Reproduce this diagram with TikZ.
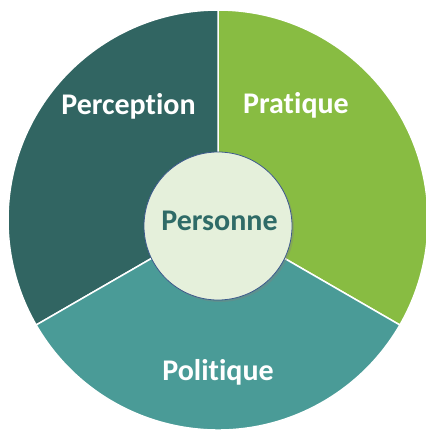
\documentclass[tikz,border=0pt]{standalone}
\usepackage{fontspec}
\setmainfont{Carlito}[Ligatures=NoCommon]
\usetikzlibrary{shadows}
\definecolor{perccol}{HTML}{316562}
\definecolor{pratcol}{HTML}{88BC42}
\definecolor{policol}{HTML}{4A9B97}
\definecolor{perscol}{HTML}{E5F0DB}
\definecolor{persline}{HTML}{3D5A8C}
\definecolor{perstext}{HTML}{2F6B67}
\begin{document}
\begin{tikzpicture}[x=1pt,y=1pt,
    sector/.style={draw=white, line width=1.5pt},
    seclabel/.style={anchor=base, text=white, font=\fontsize{30}{36}\bfseries\selectfont}]
    \useasboundingbox (0,0) rectangle (426,432);
    \coordinate (c) at (218,212);

    % the three parts
    \filldraw[sector, fill=pratcol] (c) -- ++(90:210) arc[start angle=90, end angle=-30, radius=210] -- cycle;
    \filldraw[sector, fill=perccol] (c) -- ++(90:210) arc[start angle=90, end angle=210, radius=210] -- cycle;
    \filldraw[sector, fill=policol] (c) -- ++(210:210) arc[start angle=210, end angle=330, radius=210] -- cycle;

    \node[seclabel] (perception) at (128.5,317) {Perception};
    \node[seclabel] (pratique) at (296,318) {Pratique};
    \node[seclabel] (politique) at (218,52) {Politique};

    % centre
    \node[circle, minimum size=148pt, inner sep=0pt, fill=perscol, draw=persline, line width=0.8pt,
          drop shadow={shadow xshift=2pt, shadow yshift=-2pt, opacity=0.35}] (pers) at (218,206) {};
    \node[anchor=base, text=perstext, font=\fontsize{30}{36}\bfseries\selectfont] (personne) at (219.5,201) {Personne};
\end{tikzpicture}
\end{document}
